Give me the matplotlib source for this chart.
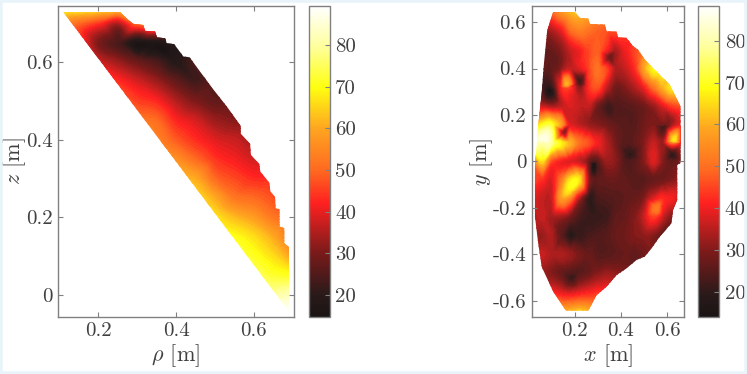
import numpy as np
import matplotlib
matplotlib.use("Agg")
import matplotlib.pyplot as plt
import matplotlib.tri as mtri
from matplotlib.colors import LinearSegmentedColormap, Normalize
from matplotlib.patches import Polygon, Rectangle
from matplotlib.cm import ScalarMappable

plt.rcParams['font.family'] = 'cmr10'
plt.rcParams['mathtext.fontset'] = 'cm'
plt.rcParams['axes.unicode_minus'] = False

# left panel, values
rho = [.10, .15, .20, .25, .30, .35, .40, .45, .50, .55, .60, .65, .70]
z = [.75, .70, .65, .60, .55, .50, .45, .40, .35, .30, .25, .20, .15, .10, .05, 0, -.05]
t_left = [
    [78, 78, 78, 78, 78, 75, 70, 50, 40, 30, 30, 30, 30],
    [56, 50, 44, 35, 50, 58, 50, 40, 30, 28, 28, 28, 30],
    [50, 44, 30, 24, 16, 17, 21, 24, 26, 27, 28, 30, 30],
    [54, 48, 38, 33, 28, 24, 19, 24, 25, 26, 28, 30, 30],
    [58, 54, 48, 43, 38, 33, 27, 23, 26, 28, 28, 30, 30],
    [62, 58, 54, 50, 45, 42, 35, 30, 27, 28, 30, 32, 34],
    [66, 64, 60, 56, 52, 50, 42, 38, 33, 31, 31, 33, 36],
    [70, 68, 66, 62, 58, 54, 48, 43, 39, 37, 34, 35, 38],
    [74, 72, 70, 68, 62, 60, 56, 50, 44, 41, 38, 38, 40],
    [78, 76, 74, 72, 70, 66, 62, 60, 50, 46, 43, 43, 44],
    [80, 78, 76, 74, 72, 70, 68, 66, 60, 52, 50, 47, 46],
    [84, 82, 80, 78, 76, 74, 72, 70, 67, 62, 58, 52, 48],
    [86, 85, 84, 82, 80, 78, 76, 74, 72, 70, 66, 60, 50],
    [88, 87, 86, 85, 84, 82, 80, 78, 76, 74, 71, 66, 58],
    [89, 89, 88, 87, 86, 85, 84, 82, 80, 78, 76, 72, 70],
    [90, 90, 89, 89, 88, 88, 87, 86, 84, 84, 82, 80, 82],
    [90, 90, 90, 90, 90, 90, 90, 90, 90, 90, 90, 90, 90],
]
edge_rho = [.110, .256, .277, .290, .316, .320, .346, .351, .372, .376, .395, .419, .435, .462,
            .497, .531, .567, .567, .591, .593, .615, .617, .641, .643, .655, .657, .667, .667,
            .679, .679, .691, .691]
edge_z = [.728, .728, .708, .698, .695, .680, .678, .663, .661, .648, .646, .614, .612, .575,
          .528, .485, .435, .415, .389, .360, .337, .318, .288, .266, .253, .223, .221, .176,
          .172, .133, .123, -.043]

# right panel
x = [.02, .06, .10, .14, .18, .22, .26, .30, .34, .38, .42, .46, .50, .54, .58, .62, .66]
y = [.64, .56, .48, .40, .32, .24, .16, .08, 0, -.08, -.16, -.24, -.32, -.40, -.48, -.56, -.64]
t_right = [
    [45, 45, 48, 55, 60, 62, 60, 55, 50, 45, 42, 40, 40, 40, 40, 40, 40],
    [32, 32, 33, 38, 48, 52, 50, 48, 46, 45, 44, 42, 42, 42, 42, 42, 42],
    [27, 27, 27, 30, 36, 40, 45, 48, 40, 34, 40, 45, 50, 52, 50, 45, 45],
    [26, 26, 26, 30, 36, 38, 44, 50, 44, 34, 36, 42, 58, 68, 66, 50, 45],
    [25, 22, 20, 40, 44, 30, 42, 46, 35, 28, 30, 34, 40, 50, 60, 66, 55],
    [38, 35, 32, 35, 38, 36, 36, 28, 22, 24, 25, 26, 28, 32, 38, 44, 46],
    [60, 68, 70, 58, 38, 35, 32, 30, 28, 26, 25, 25, 28, 30, 28, 32, 38],
    [78, 80, 78, 68, 60, 50, 46, 40, 34, 28, 25, 26, 30, 36, 32, 50, 38],
    [50, 65, 45, 40, 38, 36, 28, 25, 32, 30, 24, 25, 30, 38, 30, 26, 30],
    [45, 42, 38, 50, 66, 66, 32, 26, 27, 27, 26, 25, 25, 27, 28, 30, 32],
    [38, 36, 36, 56, 52, 33, 20, 23, 24, 25, 26, 27, 30, 38, 42, 40, 35],
    [34, 36, 33, 32, 28, 23, 21, 21, 22, 26, 27, 30, 36, 44, 36, 30, 30],
    [32, 32, 34, 26, 19, 21, 23, 24, 25, 27, 28, 30, 31, 30, 26, 28, 30],
    [34, 36, 34, 34, 32, 29, 27, 25, 25, 26, 27, 26, 28, 30, 30, 30, 30],
    [32, 32, 30, 27, 24, 25, 27, 30, 32, 31, 30, 30, 30, 30, 30, 30, 30],
    [38, 38, 40, 38, 36, 38, 40, 42, 42, 40, 40, 40, 40, 40, 40, 40, 40],
    [55, 55, 55, 58, 60, 62, 60, 55, 50, 50, 50, 50, 50, 50, 50, 50, 50],
]
# small hot and cold spots that fall between the grid rows
spot_x = [.095, .225, .165, .285, .265, .44, .155, .35, .625, .63, .07, .17, .555, .19, .59]
spot_y = [.31, .34, .33, -.01, -.15, .03, .125, .45, .03, .09, .10, -.13, -.20, -.50, .15]
spot_t = [15, 22, 60, 15, 20, 20, 30, 28, 20, 66, 86, 66, 52, 21, 23]
edge_x = [.108, .201, .223, .259, .266, .331, .338, .381, .388, .424, .453, .474, .503, .553, .611,
          .657, .657, .643, .643, .625, .618, .568, .532, .503, .467, .424, .381, .338, .295, .259,
          .163, .108, .058, .043, .029, .029, .043, .058, .068, .082]
edge_y = [.644, .644, .618, .615, .592, .589, .560, .560, .534, .532, .496, .481, .438, .388, .330,
          .237, -.007, -.014, -.165, -.208, -.266, -.323, -.374, -.409, -.424, -.460, -.489, -.539,
          -.575, -.642, -.642, -.560, -.453, -.352, -.237, -.022, .151, .295, .424, .565]

ticks_cb = [20, 30, 40, 50, 60, 70, 80]
grey_text = '#404040'
grey_line = '#808080'

cmap = LinearSegmentedColormap.from_list('heat', [
    (0.0, '#1a1414'), (0.07, '#2a1a1a'), (0.205, '#7a1a1a'), (0.272, '#b01e1e'), (0.365, '#ff2020'),
    (0.473, '#ff6a20'), (0.606, '#ffa520'), (0.74, '#ffff10'), (0.874, '#ffffa0'), (1.0, '#ffffff')])


def draw_panel(fig, box, cbox, xs, ys, vals, spots, ex, ey, xlim, ylim, xticks, yticks, xlab, ylab, vmin, vmax):
    W, H = fig.get_size_inches() * fig.dpi
    ax = fig.add_axes([box[0] / W, 1 - box[3] / H, (box[1] - box[0]) / W, (box[3] - box[2]) / H])
    gx, gy = np.meshgrid(xs, ys)
    px = np.concatenate([gx.ravel(), spots[0]])
    py = np.concatenate([gy.ravel(), spots[1]])
    pv = np.concatenate([np.array(vals, dtype=float).ravel(), spots[2]])
    tri = mtri.Triangulation(px, py)
    interp = mtri.CubicTriInterpolator(tri, pv, kind='geom')
    fx, fy = np.meshgrid(np.linspace(min(xs), max(xs), 200), np.linspace(min(ys), max(ys), 300))
    fv = np.clip(interp(fx, fy), vmin, vmax)
    cs = ax.contourf(fx, fy, fv, levels=np.linspace(vmin, vmax, 70), cmap=cmap, vmin=vmin, vmax=vmax)
    clip = Polygon(np.column_stack([ex, ey]), closed=True, transform=ax.transData)
    cs.set_clip_path(clip)
    ax.set_xlim(xlim)
    ax.set_ylim(ylim)
    ax.set_xticks(xticks)
    ax.set_xticklabels(['%.1f' % t for t in xticks])
    ax.set_yticks(yticks)
    ax.set_yticklabels(['0' if t == 0 else '%.1f' % t for t in yticks])
    ax.tick_params(direction='in', top=True, right=True, length=3.5, width=0.8, color=grey_line,
                   labelsize=15, labelcolor=grey_text, pad=4)
    for s in ax.spines.values():
        s.set_color(grey_line)
        s.set_linewidth(1.0)
    ax.set_xlabel(xlab, fontsize=16, color=grey_text, labelpad=1)
    ax.set_ylabel(ylab, fontsize=16, color=grey_text, labelpad=-2)

    cax = fig.add_axes([cbox[0] / W, 1 - box[3] / H, (cbox[1] - cbox[0]) / W, (box[3] - box[2]) / H])
    cb = fig.colorbar(ScalarMappable(Normalize(vmin, vmax), cmap), cax=cax)
    cb.set_ticks(ticks_cb)
    cb.ax.tick_params(direction='in', length=3.5, width=0.8, color=grey_line, labelsize=15,
                      labelcolor=grey_text, pad=4)
    cb.outline.set_edgecolor(grey_line)
    cb.outline.set_linewidth(1.0)


fig = plt.figure(figsize=(7.47, 3.74), dpi=100)
fig.patch.set_facecolor('white')
fig.add_artist(Rectangle((0, 0), 1, 1, transform=fig.transFigure, fill=False, edgecolor='#e8f4fa', linewidth=4))

draw_panel(fig, (58, 294, 6, 317), (308.5, 329.5), rho, z, t_left, ([], [], []), edge_rho, edge_z,
           (0.096, 0.704), (-0.057, 0.744), [.2, .4, .6], [0, .2, .4, .6],
           r'$\rho$ [m]', r'$z$ [m]', 14.7, 89.4)
draw_panel(fig, (531.7, 684, 6, 317), (698, 719.3), x, y, t_right, (spot_x, spot_y, spot_t), edge_x, edge_y,
           (0.015, 0.672), (-0.669, 0.669), [.2, .4, .6], [-.6, -.4, -.2, 0, .2, .4, .6],
           r'$x$ [m]', r'$y$ [m]', 14, 88.3)

fig.savefig('out.png', dpi=100)
